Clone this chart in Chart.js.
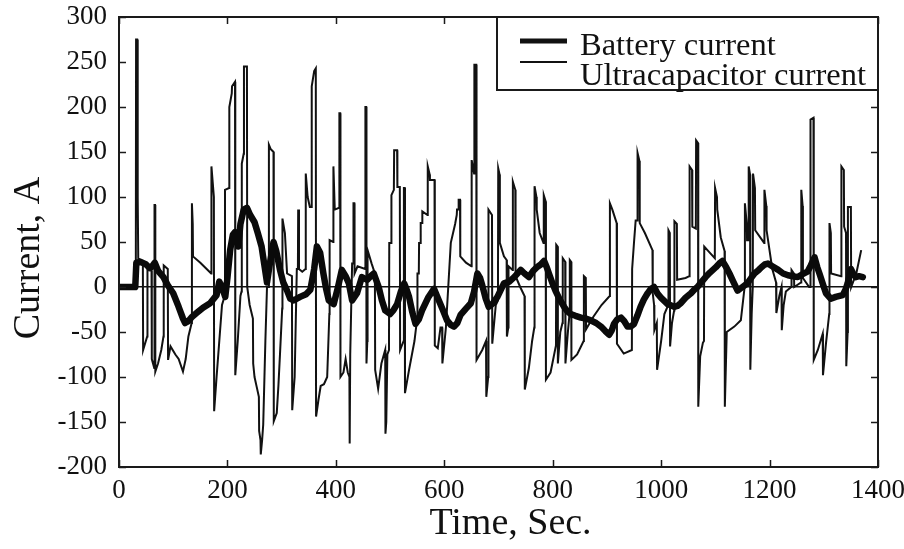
<!DOCTYPE html>
<html>
<head>
<meta charset="utf-8">
<script src="https://cdn.jsdelivr.net/npm/chart.js@4.4.1/dist/chart.umd.min.js"></script>
<style>
  html, body { margin: 0; padding: 0; background: #ffffff; }
  #wrap { width: 904px; height: 549px; }
</style>
</head>
<body>
<div id="wrap"><canvas id="c" width="904" height="549"></canvas></div>
<script>
// ---- data ----
const xTickValues = [0, 200, 400, 600, 800, 1000, 1200, 1400];
const yTickValues = [-200, -150, -100, -50, 0, 50, 100, 150, 200, 250, 300];
const seriesNames = ['Battery current', 'Ultracapacitor current'];
const xTitle = 'Time, Sec.';
const yTitle = 'Current, A';

const batteryTime = [0,30,32,40,50,55,60,66,72,82,90,100,110,118,122,128,135,143,155,168,180,185,190,196,200,205,210,214,220,224,230,236,242,250,256,263,268,273,278,285,290,297,303,310,316,322,334,345,353,360,365,371,377,382,387,396,404,411,418,424,430,439,448,458,464,470,479,485,491,500,506,513,520,526,530,535,541,547,553,559,570,581,590,597,605,612,618,624,630,640,649,655,661,666,670,676,682,690,698,710,720,729,741,748,756,764,771,778,784,789,793,799,805,813,821,827,833,842,852,861,870,880,889,897,904,909,913,919,926,932,938,944,950,956,962,968,975,981,987,993,1000,1012,1024,1030,1036,1045,1055,1061,1067,1075,1082,1090,1101,1107,1113,1120,1126,1133,1141,1150,1159,1166,1172,1180,1185,1191,1197,1205,1216,1225,1234,1243,1252,1260,1270,1276,1283,1288,1292,1298,1304,1313,1322,1335,1340,1344,1350,1355,1359,1365,1372];
const batteryCurrent = [0,0,27,28,25,22,22,27,18,11,2,-7,-22,-35,-40,-38,-33,-29,-23,-18,-9,6,0,-11,10,41,58,61,45,70,86,88,80,72,60,45,25,5,25,50,40,19,5,-4,-13,-15,-11,-8,-3,20,45,38,15,-2,-15,-19,0,19,12,4,-15,-7,11,8,12,15,0,-15,-26,-30,-26,-19,-5,4,-2,-11,-28,-41,-36,-26,-12,-2,-15,-25,-37,-42,-44,-40,-31,-24,-18,-5,15,10,2,-12,-22,-18,-11,4,6,11,19,15,11,18,22,25,29,22,15,5,-4,-14,-22,-27,-30,-32,-34,-35,-37,-40,-44,-49,-53,-48,-41,-36,-34,-38,-44,-44,-41,-32,-22,-14,-7,-2,0,-7,-12,-19,-22,-21,-18,-12,-7,-3,0,6,11,16,22,26,29,22,15,6,-4,0,4,10,15,19,22,25,26,23,19,15,13,12,11,14,17,24,33,22,15,4,-7,-13,-11,-9,-3,4,20,14,11,12,11];

const ucTime = [0,31,31.5,33.5,34,35,35.5,44,44.5,52,52.5,60,60.5,65,65.5,66.5,67,72,78,82,82.5,90,90.5,95,104,110,118,123,128,134,134.5,136,136.5,150,165,170,170.5,175,175.5,180,185,190,195,195.5,203,203.5,208,208.5,214,214.5,219,224,226,226.5,230,230.5,236,236.5,241,247,247.5,250,254,258,258.5,261,261.5,264,266,270,273,276,276.5,280,285,285.5,291,294,297,301,301.5,306,310,319,319.5,324,328,330,330.5,332,338,344,344.5,348,352,355,355.5,360,363,363.5,368,372,378,384,388,388.5,395,395.5,398,406,406.5,408,408.5,414,418,422,425,425.5,426.5,430,432,432.5,434,434.5,440,454,454.5,456,456.5,458,458.5,466,472,472.5,478,484,491,491.5,493,495,498,498.5,502,502.5,507,507.5,513,513.5,518,518.5,525,525.5,527,527.5,535,545,550,550.5,553,553.5,556,556.5,559,559.5,569,569.5,573,573.5,582,582.5,588,593,596,596.5,603,612,620,623,623.5,626,626.5,629,629.5,640,650,650.5,655,655.5,659,659.5,670,677,677.5,681,681.5,688,688.5,695,699,699.5,702,702.5,710,715,715.5,718,718.5,726,726.5,731,731.5,740,748,748.5,756,762,766,766.5,770,770.5,776,783,783.5,787,787.5,796,806,806.5,809,809.5,814,818,818.5,823,823.5,828,831,831.5,834,834.5,845,857,857.5,861,861.5,875,890,905,905.5,910,918,918.5,931,946,946.5,950,953,956,956.5,960,960.5,970,984,984.5,987,987.5,992,992.5,1000,1006,1013,1013.5,1016,1016.5,1020,1024,1024.5,1029,1029.5,1045,1052,1052.5,1057,1057.5,1064,1064.5,1068,1068.5,1072,1077,1079,1079.5,1090,1099,1099.5,1103,1103.5,1110,1117,1117.5,1121,1135,1147,1154,1154.5,1158,1158.5,1161,1161.5,1164,1164.5,1167,1169,1169.5,1173,1173.5,1190,1190.5,1194,1194.5,1205,1212,1212.5,1218,1222,1222.5,1226,1230,1240,1240.5,1245,1245.5,1258,1258.5,1261,1261.5,1273,1275,1275.5,1281,1281.5,1289,1298,1298.5,1304,1310,1310.5,1313,1313.5,1332,1332.5,1337,1337.5,1341,1341.5,1344,1344.5,1350,1350.5,1360,1369];
const ucCurrent = [0,0,275,275,110,100,32,28,-70,-55,19,18,-80,-90,91,91,-94,-85,-70,-55,24,20,-81,-66,-75,-80,-94,-80,-55,-40,93,70,34,27,18,15,134,100,-138,-100,-60,-20,-10,108,110,200,215,223,228,-98,-60,-10,-5,137,148,245,245,0,-20,-35,-85,-100,-111,-122,-160,-170,-186,-170,-153,-60,0,0,158,153,150,-149,-140,-110,-74,-24,76,60,15,12,-137,-100,20,20,86,20,17,20,126,100,89,89,223,240,243,-144,-125,-110,-108,-100,-30,52,50,134,86,88,193,193,-100,-95,-80,-95,-100,-174,-75,26,26,93,93,15,23,20,200,200,-85,-60,41,26,15,-92,-113,-85,-70,-163,-150,-75,-70,49,49,102,108,152,152,111,111,-70,-60,110,110,-118,-92,-60,-35,15,15,49,49,71,71,84,80,134,125,119,119,-65,-68,-45,-45,-85,-45,49,70,80,86,86,97,97,34,27,23,141,126,247,247,-81,-70,-60,-122,-100,86,80,-63,-20,-15,132,125,49,34,30,-55,-45,23,19,117,108,12,0,-10,-114,-90,-60,-45,112,100,86,60,49,102,95,-103,-95,-65,47,45,-85,-50,-40,32,28,-85,-50,-30,30,28,-81,-75,-60,12,10,-47,-33,-20,-10,93,86,71,-63,-74,-70,20,50,74,74,149,140,71,60,41,-7,-20,-48,-40,-92,-60,-30,-20,63,60,-66,-40,-26,73,70,8,10,12,134,130,67,65,163,160,-133,-77,-62,-60,45,38,32,110,100,86,55,40,-133,-50,-44,-37,0,93,70,52,52,134,125,-92,-30,0,126,110,63,49,108,90,63,20,5,-29,-10,0,-48,-20,-5,0,19,15,0,5,108,90,10,0,0,186,188,-81,-70,-52,-98,-63,-30,71,60,15,12,134,130,67,60,-88,-50,89,89,0,15,41];

const FONT = "'Liberation Serif', 'Times New Roman', serif";
const INK = '#111111';

const toPoints = (xs, ys) => xs.map((t, i) => ({ x: t, y: ys[i] }));

const framePlugin = {
  id: 'frameTicksLegend',
  afterDatasetsDraw(chart) {
    const { ctx, chartArea: a, scales } = chart;
    const xs = scales.x, ys = scales.y;
    ctx.save();
    // inward ticks on all four sides
    ctx.strokeStyle = '#1a1a1a';
    ctx.lineWidth = 1.5;
    const tl = 7;
    ctx.beginPath();
    ys.ticks.forEach(t => {
      const py = Math.round(ys.getPixelForValue(t.value)) + 0.5;
      ctx.moveTo(a.left, py); ctx.lineTo(a.left + tl, py);
      ctx.moveTo(a.right, py); ctx.lineTo(a.right - tl, py);
    });
    xs.ticks.forEach(t => {
      const px = Math.round(xs.getPixelForValue(t.value)) + 0.5;
      ctx.moveTo(px, a.bottom); ctx.lineTo(px, a.bottom - tl);
      ctx.moveTo(px, a.top); ctx.lineTo(px, a.top + tl);
    });
    ctx.stroke();
    // frame
    ctx.lineWidth = 2;
    ctx.strokeRect(a.left, a.top, a.right - a.left, a.bottom - a.top);

    // legend box (top-right inside plot)
    const bx = a.left + 378, by = a.top, bw = a.right - bx, bh = 73;
    ctx.fillStyle = '#ffffff';
    ctx.fillRect(bx, by, bw, bh);
    ctx.lineWidth = 2;
    ctx.strokeStyle = '#1a1a1a';
    ctx.strokeRect(bx, by, bw, bh);
    const ds = chart.data.datasets;
    const lineY = [by + 24, by + 45];
    const textY = [by + 38, by + 68];
    ctx.font = '32.5px ' + FONT;
    ctx.fillStyle = INK;
    ctx.textAlign = 'left';
    ctx.textBaseline = 'alphabetic';
    ds.forEach((d, i) => {
      ctx.beginPath();
      ctx.lineWidth = i === 0 ? 5 : 2;
      ctx.strokeStyle = INK;
      ctx.moveTo(bx + 23, lineY[i]);
      ctx.lineTo(bx + 70, lineY[i]);
      ctx.stroke();
      ctx.fillText(d.label, bx + 83, textY[i]);
    });

    // axis titles
    ctx.font = '38px ' + FONT;
    ctx.textAlign = 'center';
    ctx.textBaseline = 'alphabetic';
    ctx.fillText(xTitle, (a.left + a.right) / 2 + 12, chart.height - 15);
    ctx.translate(39, (a.top + a.bottom) / 2 + 16);
    ctx.rotate(-Math.PI / 2);
    ctx.fillText(yTitle, 0, 0);
    ctx.restore();
  }
};

new Chart(document.getElementById('c'), {
  type: 'line',
  data: {
    datasets: [
      {
        label: seriesNames[0],
        data: toPoints(batteryTime, batteryCurrent),
        borderColor: '#0a0a0a',
        borderWidth: 6.5,
        pointRadius: 0,
        tension: 0,
        borderJoinStyle: 'round',
        borderCapStyle: 'round'
      },
      {
        label: seriesNames[1],
        data: toPoints(ucTime, ucCurrent),
        borderColor: INK,
        borderWidth: 2,
        pointRadius: 0,
        tension: 0
      }
    ]
  },
  options: {
    responsive: false,
    animation: false,
    devicePixelRatio: 1,
    layout: { padding: { top: 17, right: 26, left: 0, bottom: 0 } },
    plugins: {
      legend: { display: false },
      tooltip: { enabled: false }
    },
    scales: {
      x: {
        type: 'linear',
        min: 0, max: 1400,
        afterBuildTicks: s => { s.ticks = xTickValues.map(v => ({ value: v })); },
        afterFit: s => { s.height = 82; s.paddingLeft = 0; s.paddingRight = 0; },
        border: { display: false },
        grid: { display: false, drawTicks: false },
        ticks: {
          padding: 8,
          color: INK,
          font: { family: FONT, size: 27 },
          maxRotation: 0,
          callback: v => String(v)
        },
        title: { display: false, text: xTitle }
      },
      y: {
        type: 'linear',
        min: -200, max: 300,
        afterBuildTicks: s => { s.ticks = yTickValues.map(v => ({ value: v })); },
        afterFit: s => { s.width = 119; s.paddingTop = 0; s.paddingBottom = 0; },
        border: { display: false },
        grid: {
          drawTicks: false,
          color: c => (c.tick && c.tick.value === 0 ? INK : 'rgba(0,0,0,0)'),
          lineWidth: c => (c.tick && c.tick.value === 0 ? 1.6 : 0)
        },
        ticks: {
          padding: 12,
          color: INK,
          font: { family: FONT, size: 27 },
          callback: v => String(v)
        },
        title: { display: false, text: yTitle }
      }
    }
  },
  plugins: [framePlugin]
});
</script>
</body>
</html>
